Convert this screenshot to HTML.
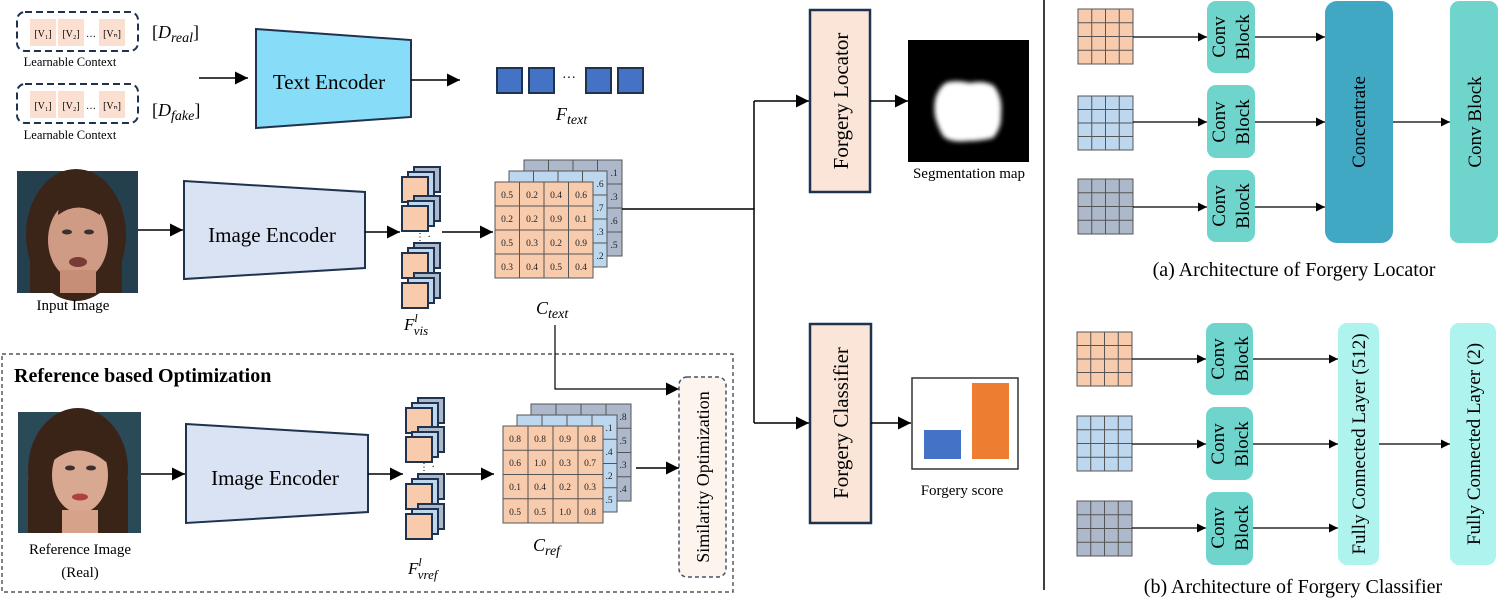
<!DOCTYPE html>
<html><head><meta charset="utf-8"><style>
html,body{margin:0;padding:0;background:#fff;}
svg{display:block;font-family:"Liberation Serif",serif;}
</style></head><body>
<svg width="1498" height="601" viewBox="0 0 1498 601" xmlns="http://www.w3.org/2000/svg">
<defs>
<marker id="a" viewBox="0 0 10 10" refX="10" refY="5" markerWidth="9" markerHeight="9" markerUnits="userSpaceOnUse" orient="auto"><path d="M0,0L10,5L0,10z" fill="#000"/></marker>
<marker id="b" viewBox="0 0 10 10" refX="10" refY="5" markerWidth="13" markerHeight="13" markerUnits="userSpaceOnUse" orient="auto"><path d="M0,0L10,5L0,10z" fill="#000"/></marker>
<filter id="bl"><feGaussianBlur stdDeviation="2.5"/></filter>
</defs>

<!-- Learnable contexts -->
<g font-size="10">
<rect x="17" y="12" width="121" height="39" rx="8" fill="#fff" stroke="#1f3350" stroke-width="2" stroke-dasharray="7,4"/>
<rect x="30" y="19" width="26" height="27" fill="#fbe0d2"/><rect x="58" y="19" width="26" height="27" fill="#fbe0d2"/><rect x="99" y="19" width="26" height="27" fill="#fbe0d2"/>
<text x="43" y="37" text-anchor="middle">[V₁]</text><text x="71" y="37" text-anchor="middle">[V₂]</text><text x="91" y="37" text-anchor="middle">…</text><text x="112" y="37" text-anchor="middle">[Vₙ]</text>
<text x="70" y="66" text-anchor="middle" font-size="12.5">Learnable Context</text>
<rect x="17" y="84" width="121" height="39" rx="8" fill="#fff" stroke="#1f3350" stroke-width="2" stroke-dasharray="7,4"/>
<rect x="30" y="91" width="26" height="27" fill="#fbe0d2"/><rect x="58" y="91" width="26" height="27" fill="#fbe0d2"/><rect x="99" y="91" width="26" height="27" fill="#fbe0d2"/>
<text x="43" y="109" text-anchor="middle">[V₁]</text><text x="71" y="109" text-anchor="middle">[V₂]</text><text x="91" y="109" text-anchor="middle">…</text><text x="112" y="109" text-anchor="middle">[Vₙ]</text>
<text x="70" y="139" text-anchor="middle" font-size="12.5">Learnable Context</text>
</g>
<text x="152" y="38" font-size="18">[<tspan font-style="italic">D</tspan><tspan font-style="italic" font-size="14" dy="4">real</tspan><tspan dy="-4">]</tspan></text>
<text x="152" y="116" font-size="18">[<tspan font-style="italic">D</tspan><tspan font-style="italic" font-size="14" dy="4">fake</tspan><tspan dy="-4">]</tspan></text>
<line x1="199" y1="78" x2="248" y2="78" stroke="#000" stroke-width="1.5" marker-end="url(#b)"/>
<polygon points="256,29 411,40 411,117 256,128" fill="#87dcf7" stroke="#1f3350" stroke-width="2"/>
<text x="329" y="89" text-anchor="middle" font-size="21">Text Encoder</text>
<line x1="411" y1="80" x2="460" y2="80" stroke="#000" stroke-width="1.5" marker-end="url(#b)"/>
<g fill="#4472c4" stroke="#1f3350" stroke-width="2">
<rect x="497" y="68" width="25" height="25"/><rect x="529" y="68" width="25" height="25"/><rect x="586" y="68" width="25" height="25"/><rect x="618" y="68" width="25" height="25"/></g>
<text x="569" y="82" text-anchor="middle" font-size="14">···</text>
<text x="556" y="120" font-size="18" font-style="italic">F<tspan font-size="14" dy="4">text</tspan></text>

<!-- Input image face -->
<rect x="17" y="171" width="121" height="122" fill="#24404f"/>
<ellipse cx="76" cy="235" rx="50" ry="66" fill="#3b2418"/>
<rect x="30" y="240" width="92" height="53" fill="#3b2418"/>
<ellipse cx="78" cy="240" rx="30" ry="40" fill="#cf9b84"/>
<rect x="60" y="270" width="36" height="23" fill="#c78e77"/>
<path d="M60 190 Q78 175 100 195 L100 215 Q78 200 58 215z" fill="#3b2418"/>
<ellipse cx="67" cy="232" rx="5" ry="2.5" fill="#3a3030"/><ellipse cx="89" cy="232" rx="5" ry="2.5" fill="#3a3030"/>
<ellipse cx="78" cy="262" rx="9" ry="5" fill="#7a3a35"/>
<text x="73" y="310" text-anchor="middle" font-size="15">Input Image</text>
<line x1="138" y1="230" x2="183" y2="230" stroke="#000" stroke-width="1.5" marker-end="url(#b)"/>
<polygon points="184,181 365,192 365,268 184,279" fill="#dae3f3" stroke="#1f3350" stroke-width="2"/>
<text x="272" y="242" text-anchor="middle" font-size="21">Image Encoder</text>
<line x1="365" y1="232" x2="400" y2="232" stroke="#000" stroke-width="1.5" marker-end="url(#b)"/>

<!-- F_vis stack -->
<g stroke="#1f3350" stroke-width="2">
<g><rect x="414" y="167" width="26" height="25" fill="#adb9ca"/><rect x="408" y="172" width="26" height="25" fill="#bdd7ee"/><rect x="402" y="177" width="26" height="25" fill="#f8cbad"/></g>
<g><rect x="414" y="196" width="26" height="25" fill="#adb9ca"/><rect x="408" y="201" width="26" height="25" fill="#bdd7ee"/><rect x="402" y="206" width="26" height="25" fill="#f8cbad"/></g>
<g><rect x="414" y="243" width="26" height="25" fill="#adb9ca"/><rect x="408" y="248" width="26" height="25" fill="#bdd7ee"/><rect x="402" y="253" width="26" height="25" fill="#f8cbad"/></g>
<g><rect x="414" y="273" width="26" height="25" fill="#adb9ca"/><rect x="408" y="278" width="26" height="25" fill="#bdd7ee"/><rect x="402" y="283" width="26" height="25" fill="#f8cbad"/></g>
</g>
<text x="415" y="240" font-size="10">⋮ ·</text>
<text x="404" y="330" font-size="17" font-style="italic">F<tspan font-size="12" dy="-8">l</tspan><tspan font-size="13" dy="13" dx="-4">vis</tspan></text>
<line x1="442" y1="232" x2="493" y2="232" stroke="#000" stroke-width="1.5" marker-end="url(#b)"/>

<!-- C_text grids -->
<g stroke="#555" stroke-width="1" font-size="9.5" text-anchor="middle">
<rect x="524" y="160" width="98" height="96" fill="#adb9ca"/>
<path d="M548.5 160V256M573 160V256M597.5 160V256M524 184H622M524 208H622M524 232H622" fill="none"/>
<rect x="509" y="171" width="98" height="96" fill="#bdd7ee"/>
<path d="M533.5 171V267M558 171V267M582.5 171V267M509 195H607M509 219H607M509 243H607" fill="none"/>
<rect x="495" y="182" width="98" height="96" fill="#f8cbad"/>
<path d="M519.5 182V278M544 182V278M568.5 182V278M495 206H593M495 230H593M495 254H593" fill="none"/>
<g stroke="none" fill="#222">
<text x="614" y="176">.1</text><text x="614" y="200">.3</text><text x="614" y="224">.6</text><text x="614" y="248">.5</text>
<text x="600" y="187">.6</text><text x="600" y="211">.7</text><text x="600" y="235">.3</text><text x="600" y="259">.2</text>
<text x="507" y="198">0.5</text><text x="532" y="198">0.2</text><text x="556" y="198">0.4</text><text x="581" y="198">0.6</text>
<text x="507" y="222">0.2</text><text x="532" y="222">0.2</text><text x="556" y="222">0.9</text><text x="581" y="222">0.1</text>
<text x="507" y="246">0.5</text><text x="532" y="246">0.3</text><text x="556" y="246">0.2</text><text x="581" y="246">0.9</text>
<text x="507" y="270">0.3</text><text x="532" y="270">0.4</text><text x="556" y="270">0.5</text><text x="581" y="270">0.4</text>
</g></g>
<text x="536" y="314" font-size="18" font-style="italic">C<tspan font-size="14" dy="4">text</tspan></text>

<!-- connectors to locator/classifier -->
<path d="M622 209H754V423" fill="none" stroke="#000" stroke-width="1.5"/>
<line x1="754" y1="101" x2="754" y2="209" stroke="#000" stroke-width="1.5"/>
<line x1="754" y1="101" x2="809" y2="101" stroke="#000" stroke-width="1.5" marker-end="url(#b)"/>
<line x1="754" y1="423" x2="809" y2="423" stroke="#000" stroke-width="1.5" marker-end="url(#b)"/>
<rect x="810" y="10" width="60" height="182" fill="#fbe5d8" stroke="#1f3350" stroke-width="2.5"/>
<text transform="translate(848,101) rotate(-90)" text-anchor="middle" font-size="21">Forgery Locator</text>
<rect x="810" y="324" width="61" height="199" fill="#fbe5d8" stroke="#1f3350" stroke-width="2.5"/>
<text transform="translate(848,423) rotate(-90)" text-anchor="middle" font-size="21">Forgery Classifier</text>
<line x1="870" y1="101" x2="908" y2="101" stroke="#000" stroke-width="1.5" marker-end="url(#b)"/>
<rect x="908" y="40" width="121" height="122" fill="#000"/>
<path d="M948 82 Q958 80 970 83 Q985 80 994 86 Q1003 98 1001 114 Q1002 128 993 138 Q980 141 968 141 Q950 143 943 136 Q937 125 935 116 Q933 100 938 92 Q942 84 948 82z" fill="#fff" filter="url(#bl)"/>
<text x="969" y="178" text-anchor="middle" font-size="15">Segmentation map</text>
<line x1="871" y1="423" x2="911" y2="423" stroke="#000" stroke-width="1.5" marker-end="url(#b)"/>
<rect x="912" y="378" width="106" height="91" fill="#fff" stroke="#333" stroke-width="1.5"/>
<rect x="924" y="430" width="37" height="29" fill="#4472c4"/>
<rect x="972" y="383" width="37" height="76" fill="#ed7d31"/>
<text x="962" y="495" text-anchor="middle" font-size="15">Forgery score</text>

<!-- Reference based optimization -->
<rect x="2" y="354" width="731" height="238" fill="none" stroke="#333" stroke-width="1.2" stroke-dasharray="4,3"/>
<text x="14" y="382" font-size="20" font-weight="bold">Reference based Optimization</text>
<path d="M555 325V389H679" fill="none" stroke="#000" stroke-width="1.2" marker-end="url(#b)"/>
<rect x="679" y="377" width="47" height="200" rx="8" fill="#fdf4ee" stroke="#44546a" stroke-width="1.5" stroke-dasharray="4,3"/>
<text transform="translate(709,477) rotate(-90)" text-anchor="middle" font-size="18">Similarity Optimization</text>

<rect x="18" y="412" width="123" height="121" fill="#2a4a58"/>
<ellipse cx="78" cy="470" rx="50" ry="62" fill="#3a2418"/>
<rect x="28" y="480" width="100" height="53" fill="#3a2418"/>
<ellipse cx="80" cy="475" rx="28" ry="38" fill="#d9a890"/>
<path d="M55 445 Q80 425 108 450 L106 462 Q80 440 54 460z" fill="#3a2418"/>
<ellipse cx="70" cy="468" rx="5" ry="2.5" fill="#3a3030"/><ellipse cx="91" cy="468" rx="5" ry="2.5" fill="#3a3030"/>
<ellipse cx="80" cy="497" rx="8" ry="3.5" fill="#b04040"/>
<rect x="62" y="510" width="36" height="23" fill="#d6a28a"/>
<text x="80" y="554" text-anchor="middle" font-size="15">Reference Image</text>
<text x="80" y="577" text-anchor="middle" font-size="15">(Real)</text>
<line x1="141" y1="474" x2="185" y2="474" stroke="#000" stroke-width="1.5" marker-end="url(#b)"/>
<polygon points="186,424 368,435 368,512 186,523" fill="#dae3f3" stroke="#1f3350" stroke-width="2"/>
<text x="275" y="485" text-anchor="middle" font-size="21">Image Encoder</text>
<line x1="368" y1="474" x2="403" y2="474" stroke="#000" stroke-width="1.5" marker-end="url(#b)"/>
<g stroke="#1f3350" stroke-width="2">
<g><rect x="418" y="398" width="26" height="25" fill="#adb9ca"/><rect x="412" y="403" width="26" height="25" fill="#bdd7ee"/><rect x="406" y="408" width="26" height="25" fill="#f8cbad"/></g>
<g><rect x="418" y="427" width="26" height="25" fill="#adb9ca"/><rect x="412" y="432" width="26" height="25" fill="#bdd7ee"/><rect x="406" y="437" width="26" height="25" fill="#f8cbad"/></g>
<g><rect x="418" y="474" width="26" height="25" fill="#adb9ca"/><rect x="412" y="479" width="26" height="25" fill="#bdd7ee"/><rect x="406" y="484" width="26" height="25" fill="#f8cbad"/></g>
<g><rect x="418" y="504" width="26" height="25" fill="#adb9ca"/><rect x="412" y="509" width="26" height="25" fill="#bdd7ee"/><rect x="406" y="514" width="26" height="25" fill="#f8cbad"/></g>
</g>
<text x="419" y="470" font-size="10">⋮ ·</text>
<text x="408" y="574" font-size="17" font-style="italic">F<tspan font-size="12" dy="-8">l</tspan><tspan font-size="13" dy="13" dx="-4">vref</tspan></text>
<line x1="446" y1="474" x2="494" y2="474" stroke="#000" stroke-width="1.5" marker-end="url(#b)"/>
<g stroke="#555" stroke-width="1" font-size="9.5" text-anchor="middle">
<rect x="531" y="404" width="100" height="97" fill="#adb9ca"/>
<path d="M556 404V501M581 404V501M606 404V501M531 428.25H631M531 452.5H631M531 476.75H631" fill="none"/>
<rect x="517" y="415" width="100" height="97" fill="#bdd7ee"/>
<path d="M542 415V512M567 415V512M592 415V512M517 439.25H617M517 463.5H617M517 487.75H617" fill="none"/>
<rect x="503" y="426" width="100" height="97" fill="#f8cbad"/>
<path d="M528 426V523M553 426V523M578 426V523M503 450.25H603M503 474.5H603M503 498.75H603" fill="none"/>
<g stroke="none" fill="#222">
<text x="623" y="420">.8</text><text x="623" y="444">.5</text><text x="623" y="468">.3</text><text x="623" y="492">.4</text>
<text x="609" y="431">.1</text><text x="609" y="455">.4</text><text x="609" y="479">.2</text><text x="609" y="503">.5</text>
<text x="515" y="442">0.8</text><text x="540" y="442">0.8</text><text x="565" y="442">0.9</text><text x="590" y="442">0.8</text>
<text x="515" y="466">0.6</text><text x="540" y="466">1.0</text><text x="565" y="466">0.3</text><text x="590" y="466">0.7</text>
<text x="515" y="490">0.1</text><text x="540" y="490">0.4</text><text x="565" y="490">0.2</text><text x="590" y="490">0.3</text>
<text x="515" y="515">0.5</text><text x="540" y="515">0.5</text><text x="565" y="515">1.0</text><text x="590" y="515">0.8</text>
</g></g>
<text x="533" y="551" font-size="18" font-style="italic">C<tspan font-size="14" dy="4">ref</tspan></text>
<line x1="636" y1="468" x2="679" y2="468" stroke="#000" stroke-width="1.5" marker-end="url(#b)"/>

<!-- divider -->
<line x1="1044" y1="0" x2="1044" y2="590" stroke="#000" stroke-width="1.5"/>

<!-- (a) locator architecture -->
<g stroke="#555" stroke-width="1">
<rect x="1078" y="9" width="55" height="55" fill="#f8cbad"/><path d="M1091.75 9V64M1105.5 9V64M1119.25 9V64M1078 22.75H1133M1078 36.5H1133M1078 50.25H1133" fill="none"/>
<rect x="1078" y="96" width="55" height="54" fill="#bdd7ee"/><path d="M1091.75 96V150M1105.5 96V150M1119.25 96V150M1078 109.5H1133M1078 123H1133M1078 136.5H1133" fill="none"/>
<rect x="1078" y="179" width="55" height="55" fill="#adb9ca"/><path d="M1091.75 179V234M1105.5 179V234M1119.25 179V234M1078 192.75H1133M1078 206.5H1133M1078 220.25H1133" fill="none"/>
</g>
<g stroke="#000" stroke-width="1.3">
<line x1="1133" y1="37" x2="1207" y2="37" marker-end="url(#a)"/><line x1="1133" y1="122" x2="1207" y2="122" marker-end="url(#a)"/><line x1="1133" y1="207" x2="1207" y2="207" marker-end="url(#a)"/>
<line x1="1255" y1="37" x2="1325" y2="37" marker-end="url(#a)"/><line x1="1255" y1="122" x2="1325" y2="122" marker-end="url(#a)"/><line x1="1255" y1="207" x2="1325" y2="207" marker-end="url(#a)"/>
<line x1="1393" y1="122" x2="1450" y2="122" marker-end="url(#a)"/>
</g>
<g fill="#6fd4cc">
<rect x="1207" y="1" width="48" height="72" rx="9"/><rect x="1207" y="85" width="48" height="73" rx="9"/><rect x="1207" y="170" width="48" height="72" rx="9"/>
<rect x="1450" y="1" width="48" height="242" rx="9"/>
</g>
<rect x="1325" y="1" width="68" height="242" rx="12" fill="#41a8c4"/>
<g font-size="19" text-anchor="middle">
<text transform="translate(1225,37) rotate(-90)">Conv</text><text transform="translate(1249,37) rotate(-90)">Block</text>
<text transform="translate(1225,122) rotate(-90)">Conv</text><text transform="translate(1249,122) rotate(-90)">Block</text>
<text transform="translate(1225,206) rotate(-90)">Conv</text><text transform="translate(1249,206) rotate(-90)">Block</text>
<text transform="translate(1365,122) rotate(-90)">Concentrate</text>
<text transform="translate(1481,122) rotate(-90)">Conv Block</text>
</g>
<text x="1294" y="276" text-anchor="middle" font-size="20">(a) Architecture of Forgery Locator</text>

<!-- (b) classifier architecture -->
<g stroke="#555" stroke-width="1">
<rect x="1077" y="332" width="55" height="54" fill="#f8cbad"/><path d="M1090.75 332V386M1104.5 332V386M1118.25 332V386M1077 345.5H1132M1077 359H1132M1077 372.5H1132" fill="none"/>
<rect x="1077" y="416" width="55" height="55" fill="#bdd7ee"/><path d="M1090.75 416V471M1104.5 416V471M1118.25 416V471M1077 429.75H1132M1077 443.5H1132M1077 457.25H1132" fill="none"/>
<rect x="1077" y="501" width="55" height="55" fill="#adb9ca"/><path d="M1090.75 501V556M1104.5 501V556M1118.25 501V556M1077 514.75H1132M1077 528.5H1132M1077 542.25H1132" fill="none"/>
</g>
<g stroke="#000" stroke-width="1.3">
<line x1="1132" y1="359" x2="1206" y2="359" marker-end="url(#a)"/><line x1="1132" y1="444" x2="1206" y2="444" marker-end="url(#a)"/><line x1="1132" y1="528" x2="1206" y2="528" marker-end="url(#a)"/>
<line x1="1253" y1="359" x2="1338" y2="359" marker-end="url(#a)"/><line x1="1253" y1="444" x2="1338" y2="444" marker-end="url(#a)"/><line x1="1253" y1="528" x2="1338" y2="528" marker-end="url(#a)"/>
<line x1="1379" y1="444" x2="1450" y2="444" marker-end="url(#a)"/>
</g>
<g fill="#6fd4cc">
<rect x="1206" y="323" width="47" height="72" rx="9"/><rect x="1206" y="407" width="47" height="73" rx="9"/><rect x="1206" y="492" width="47" height="73" rx="9"/>
</g>
<rect x="1338" y="323" width="41" height="242" rx="9" fill="#aef3ee"/>
<rect x="1450" y="323" width="46" height="242" rx="9" fill="#aef3ee"/>
<g font-size="19" text-anchor="middle">
<text transform="translate(1224,359) rotate(-90)">Conv</text><text transform="translate(1248,359) rotate(-90)">Block</text>
<text transform="translate(1224,444) rotate(-90)">Conv</text><text transform="translate(1248,444) rotate(-90)">Block</text>
<text transform="translate(1224,528) rotate(-90)">Conv</text><text transform="translate(1248,528) rotate(-90)">Block</text>
<text transform="translate(1365,444) rotate(-90)">Fully Connected Layer (512)</text>
<text transform="translate(1480,444) rotate(-90)">Fully Connected Layer (2)</text>
</g>
<text x="1293" y="593" text-anchor="middle" font-size="20">(b) Architecture of Forgery Classifier</text>
</svg>
</body></html>
